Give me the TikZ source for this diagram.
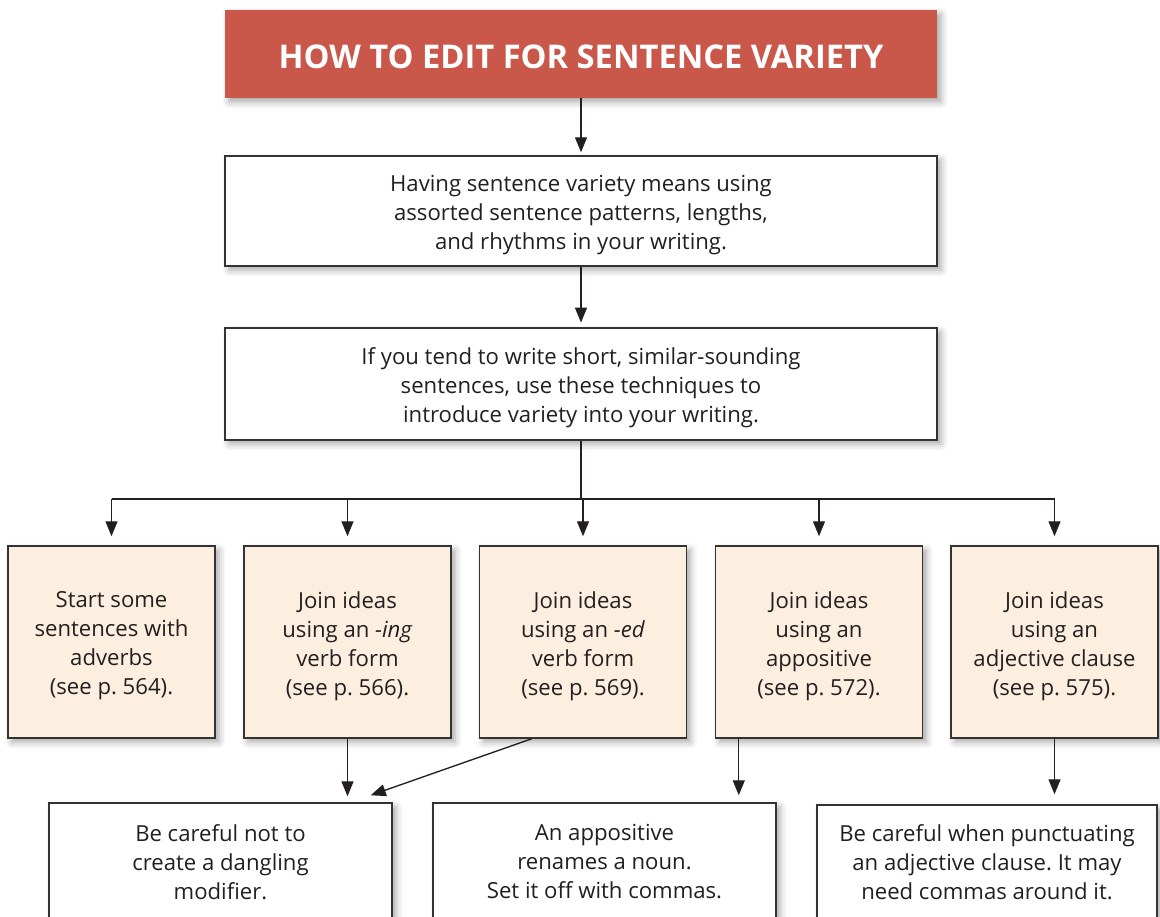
\documentclass[tikz,border=0pt]{standalone}
\usepackage{fontspec}
\setmainfont{Open Sans}
\usetikzlibrary{arrows.meta,shadows.blur,calc}
\definecolor{titlered}{RGB}{201,87,74}
\definecolor{peach}{RGB}{253,239,223}
\definecolor{edge}{RGB}{51,51,51}
\definecolor{ink}{RGB}{35,31,32}
\frenchspacing
\begin{document}
\begin{tikzpicture}[x=0.75pt,y=-0.75pt,
  font=\fontsize{16.6}{21.75}\selectfont, text=ink,
  shad/.style={blur shadow={shadow xshift=3pt, shadow yshift=-3pt, shadow blur radius=5pt, shadow opacity=35}},
  box/.style={shad, draw=edge, line width=1.1pt, fill=white, inner sep=0pt},
  rowbox/.style={box, fill=peach, minimum width=155.25pt, minimum height=144pt},
  botbox/.style={box, minimum height=88.5pt},
  txt/.style={align=center, inner sep=0pt, yshift=-3pt},
  titlebox/.style={shad, fill=titlered, inner sep=0pt, minimum width=534pt, minimum height=66pt},
  titletxt/.style={text=white, inner sep=0pt, yshift=-2.25pt, font=\bfseries\fontsize{24.5}{28}\selectfont},
  conn/.style={draw=ink, line width=1pt},
  arr/.style={conn, -{Triangle[length=11.25pt,width=9pt]}}]
\useasboundingbox (0,0) rectangle (1160,917);

\node[titlebox] (title) at (581,54) {};
\node[titletxt] (titlet) at (title.center) {HOW TO EDIT FOR SENTENCE VARIETY};

\node[box, minimum width=534pt, minimum height=82.5pt] (b1) at (581,211) {};
\node[txt] (b1t) at (b1.center) {Having sentence variety means using\\assorted sentence patterns, lengths,\\and rhythms in your writing.};
\node[box, minimum width=534pt, minimum height=84pt] (b2) at (581,384) {};
\node[txt] (b2t) at (b2.center) {If you tend to write short, similar-sounding\\sentences, use these techniques to\\introduce variety into your writing.};

\node[rowbox] (A) at (111.5,642) {};
\node[rowbox] (B) at (347.5,642) {};
\node[rowbox] (C) at (583,642) {};
\node[rowbox] (D) at (819,642) {};
\node[rowbox] (E) at (1054.5,642) {};
\node[txt] (At) at (A.center) {Start some\\sentences with\\adverbs\\(see p. 564).};
\node[txt] (Bt) at (B.center) {Join ideas\\using an \textit{-ing}\\verb form\\(see p. 566).};
\node[txt] (Ct) at (C.center) {Join ideas\\using an \textit{-ed}\\verb form\\(see p. 569).};
\node[txt] (Dt) at (D.center) {Join ideas\\using an\\appositive\\(see p. 572).};
\node[txt] (Et) at (E.center) {Join ideas\\using an\\adjective clause\\(see p. 575).};

\node[botbox, minimum width=257.25pt] (L) at (220.5,862) {};
\node[botbox, minimum width=257.25pt] (M) at (604.5,862) {};
\node[botbox, minimum width=255pt, minimum height=85.5pt] (R) at (987,862) {};
\node[txt, yshift=3pt] (Lt) at (L.center) {Be careful not to\\create a dangling\\modifier.};
\node[txt, yshift=3pt] (Mt) at (M.center) {An appositive\\renames a noun.\\Set it off with commas.};
\node[txt, yshift=3pt] (Rt) at (R.center) {Be careful when punctuating\\an adjective clause. It may\\need commas around it.};

\draw[arr, shorten >=2.25pt] (title.south) -- (b1.north);
\draw[arr, shorten >=3.5pt] (b1.south) -- (b2.north);
\coordinate (hm) at (581,499);
\draw[conn] (b2.south) -- (hm);
\draw[conn] (A.north |- hm) -- (E.north |- hm);
\foreach \n in {A,B,C,D,E} {
  \draw[arr, shorten >=6.75pt] (\n.north |- hm) -- (\n.north);
}
\draw[arr, shorten >=4.5pt] (B.south) -- (B.south |- L.north);
\draw[arr] ([xshift=39.75pt]C.south west) -- ([xshift=-16.5pt,yshift=5.25pt]L.north east);
\draw[arr, shorten >=5.25pt] ([xshift=18pt]D.south west) coordinate (d0) -- (d0 |- M.north);
\draw[arr, shorten >=7.5pt] (E.south) -- (E.south |- R.north);
\end{tikzpicture}
\end{document}
